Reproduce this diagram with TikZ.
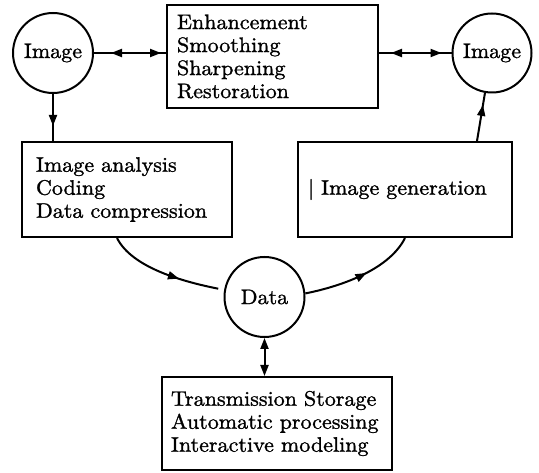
\documentclass[tikz,border=0pt]{standalone}
\usepackage{fontspec}
\newfontfamily\dfont{lmroman10-regular.otf}[FakeStretch=1.05, FakeBold=1.2]
\usetikzlibrary{arrows.meta,decorations.markings,calc}
\begin{document}
\begin{tikzpicture}[x=1pt,y=-1pt,
  >={Triangle[length=11pt,width=8pt]},
  lw/.style={line width=2pt},
  txt/.style={font=\dfont\fontsize{21}{23}\selectfont},
  circ/.style={circle, draw, lw, minimum size=80pt, inner sep=0pt, txt},
  boxn/.style={draw, lw, rectangle, align=left, txt, inner ysep=0pt},
  conn/.style={lw},
  midarrow/.style={postaction={decorate, decoration={markings, mark=at position #1 with {\arrow{>}}}}},
  dblarrow/.style 2 args={postaction={decorate, decoration={markings,
      mark=at position #1 with {\arrowreversed{>}},
      mark=at position #2 with {\arrow{>}}}}}
]
\useasboundingbox (0,0) rectangle (539,473);

\node[circ] (imgL) at (53,53) {Image};
\node[circ, minimum size=79pt] (imgR) at (492,53) {Image};
\node[circ] (data) at (264.5,297) {Data};

\node[boxn, minimum height=103pt, text width=191pt, inner xsep=10pt] (enh) at (272.5,56.5)
  {Enhancement\\Smoothing\\Sharpening\\Restoration};
\node[boxn, minimum height=95pt, text width=182pt, inner xsep=14pt] (ana) at (127,189.5)
  {Image analysis\\Coding\\Data compression};
\node[boxn, minimum height=95pt, text width=194pt, inner xsep=10pt] (gen) at (405,189.5)
  {| Image generation};
\node[boxn, minimum height=93pt, text width=212pt, inner xsep=9pt] (trans) at (277,423.5)
  {Transmission Storage\\Automatic processing\\Interactive modeling};

% connectors
\draw[conn, dblarrow={17pt}{-5pt}] (imgL.east) -- (imgL.east -| enh.west);
\draw[conn, dblarrow={12pt}{-10pt}] (imgR.west -| enh.east) -- (imgR.west);
\draw[conn, midarrow=0.68] (imgL.south) -- (imgL.south |- ana.north);
\draw[conn, midarrow=0.75] ($(gen.north)+(72,0)$) -- (imgR.260);
\draw[conn, midarrow=0.62, shorten >=6pt] ($(ana.south)+(-10,0)$) .. controls +(15,30) and +(-40,-8) .. (data.170);
\draw[conn, midarrow=0.55] (data.5) .. controls +(40,-8) and +(-15,30) .. (gen.south);
\draw[conn, <->] (data.south) -- (data.south |- trans.north);
\end{tikzpicture}
\end{document}
